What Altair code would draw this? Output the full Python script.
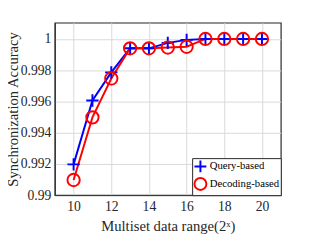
import altair as alt
import pandas as pd

x_vals = [10, 11, 12, 13, 14, 15, 16, 17, 18, 19, 20]
query_vals = [0.99197, 0.99606, 0.99786, 0.99940, 0.99940, 0.99975, 0.99994, 1.0, 1.0, 1.0, 1.0]
decoding_vals = [0.99097, 0.99498, 0.99747, 0.99940, 0.99940, 0.99945, 0.99950, 1.0, 1.0, 1.0, 1.0]
series = ["Query-based", "Decoding-based"]
colors = ["#0000ff", "#ff0000"]

rows = []
for name, vals in zip(series, [query_vals, decoding_vals]):
    for xv, yv in zip(x_vals, vals):
        rows.append({"x": xv, "y": yv, "s": name})
df = pd.DataFrame(rows)

FONT = "Liberation Serif"
PLUS = "M-1,0H1M0,-1V1"

common_axis = dict(labelFont=FONT, titleFont=FONT, labelFontSize=14, labelColor="#262626",
                   titleColor="#262626", titleFontWeight="normal", domainColor="#262626",
                   gridColor="#d9d9d9", ticks=False, titleFontSize=15)

xs = alt.X("x:Q", scale=alt.Scale(domain=[9, 21], nice=False),
           axis=alt.Axis(values=[10, 12, 14, 16, 18, 20], title="Multiset data range(2ˣ)",
                         titlePadding=5, labelPadding=5, **common_axis))
ys = alt.Y("y:Q", scale=alt.Scale(domain=[0.99, 1.00104], nice=False, zero=False),
           axis=alt.Axis(values=[0.99, 0.992, 0.994, 0.996, 0.998, 1.0], format="~g",
                         title="Synchronization Accuracy", titleX=-43, titleBaseline="middle",
                         labelPadding=4, **common_axis))

leg = alt.Legend(title=None, orient="bottom-right", offset=0,
                 fillColor="white", strokeColor="#262626",
                 padding=1, rowPadding=-10, labelFontSize=11,
                 labelFont=FONT, labelColor="#000000", symbolStrokeWidth=2,
                 symbolSize=150, labelOffset=2)

col = alt.Color("s:N", scale=alt.Scale(domain=series, range=colors), legend=leg)
shp = alt.Shape("s:N", scale=alt.Scale(domain=series, range=[PLUS, "circle"]), legend=leg)

lines = alt.Chart(df).mark_line(strokeWidth=2).encode(
    x=xs, y=ys, color=col, detail="s:N", order=alt.Order("x:Q"))

pts = alt.Chart(df).mark_point(filled=False, strokeWidth=2, opacity=1, size=160).encode(
    x=xs, y=ys, color=col, shape=shp,
)

chart = alt.layer(lines, pts).properties(
    width=232, height=177,
    padding={"left": 48, "top": 12, "right": 31, "bottom": 45},
    autosize=alt.AutoSizeParams(type="none"),
).configure(font=FONT, background="white"
).configure_view(stroke="#262626", strokeWidth=1.2)

chart.save("out.html", embed_options={"renderer": "svg", "actions": False})
